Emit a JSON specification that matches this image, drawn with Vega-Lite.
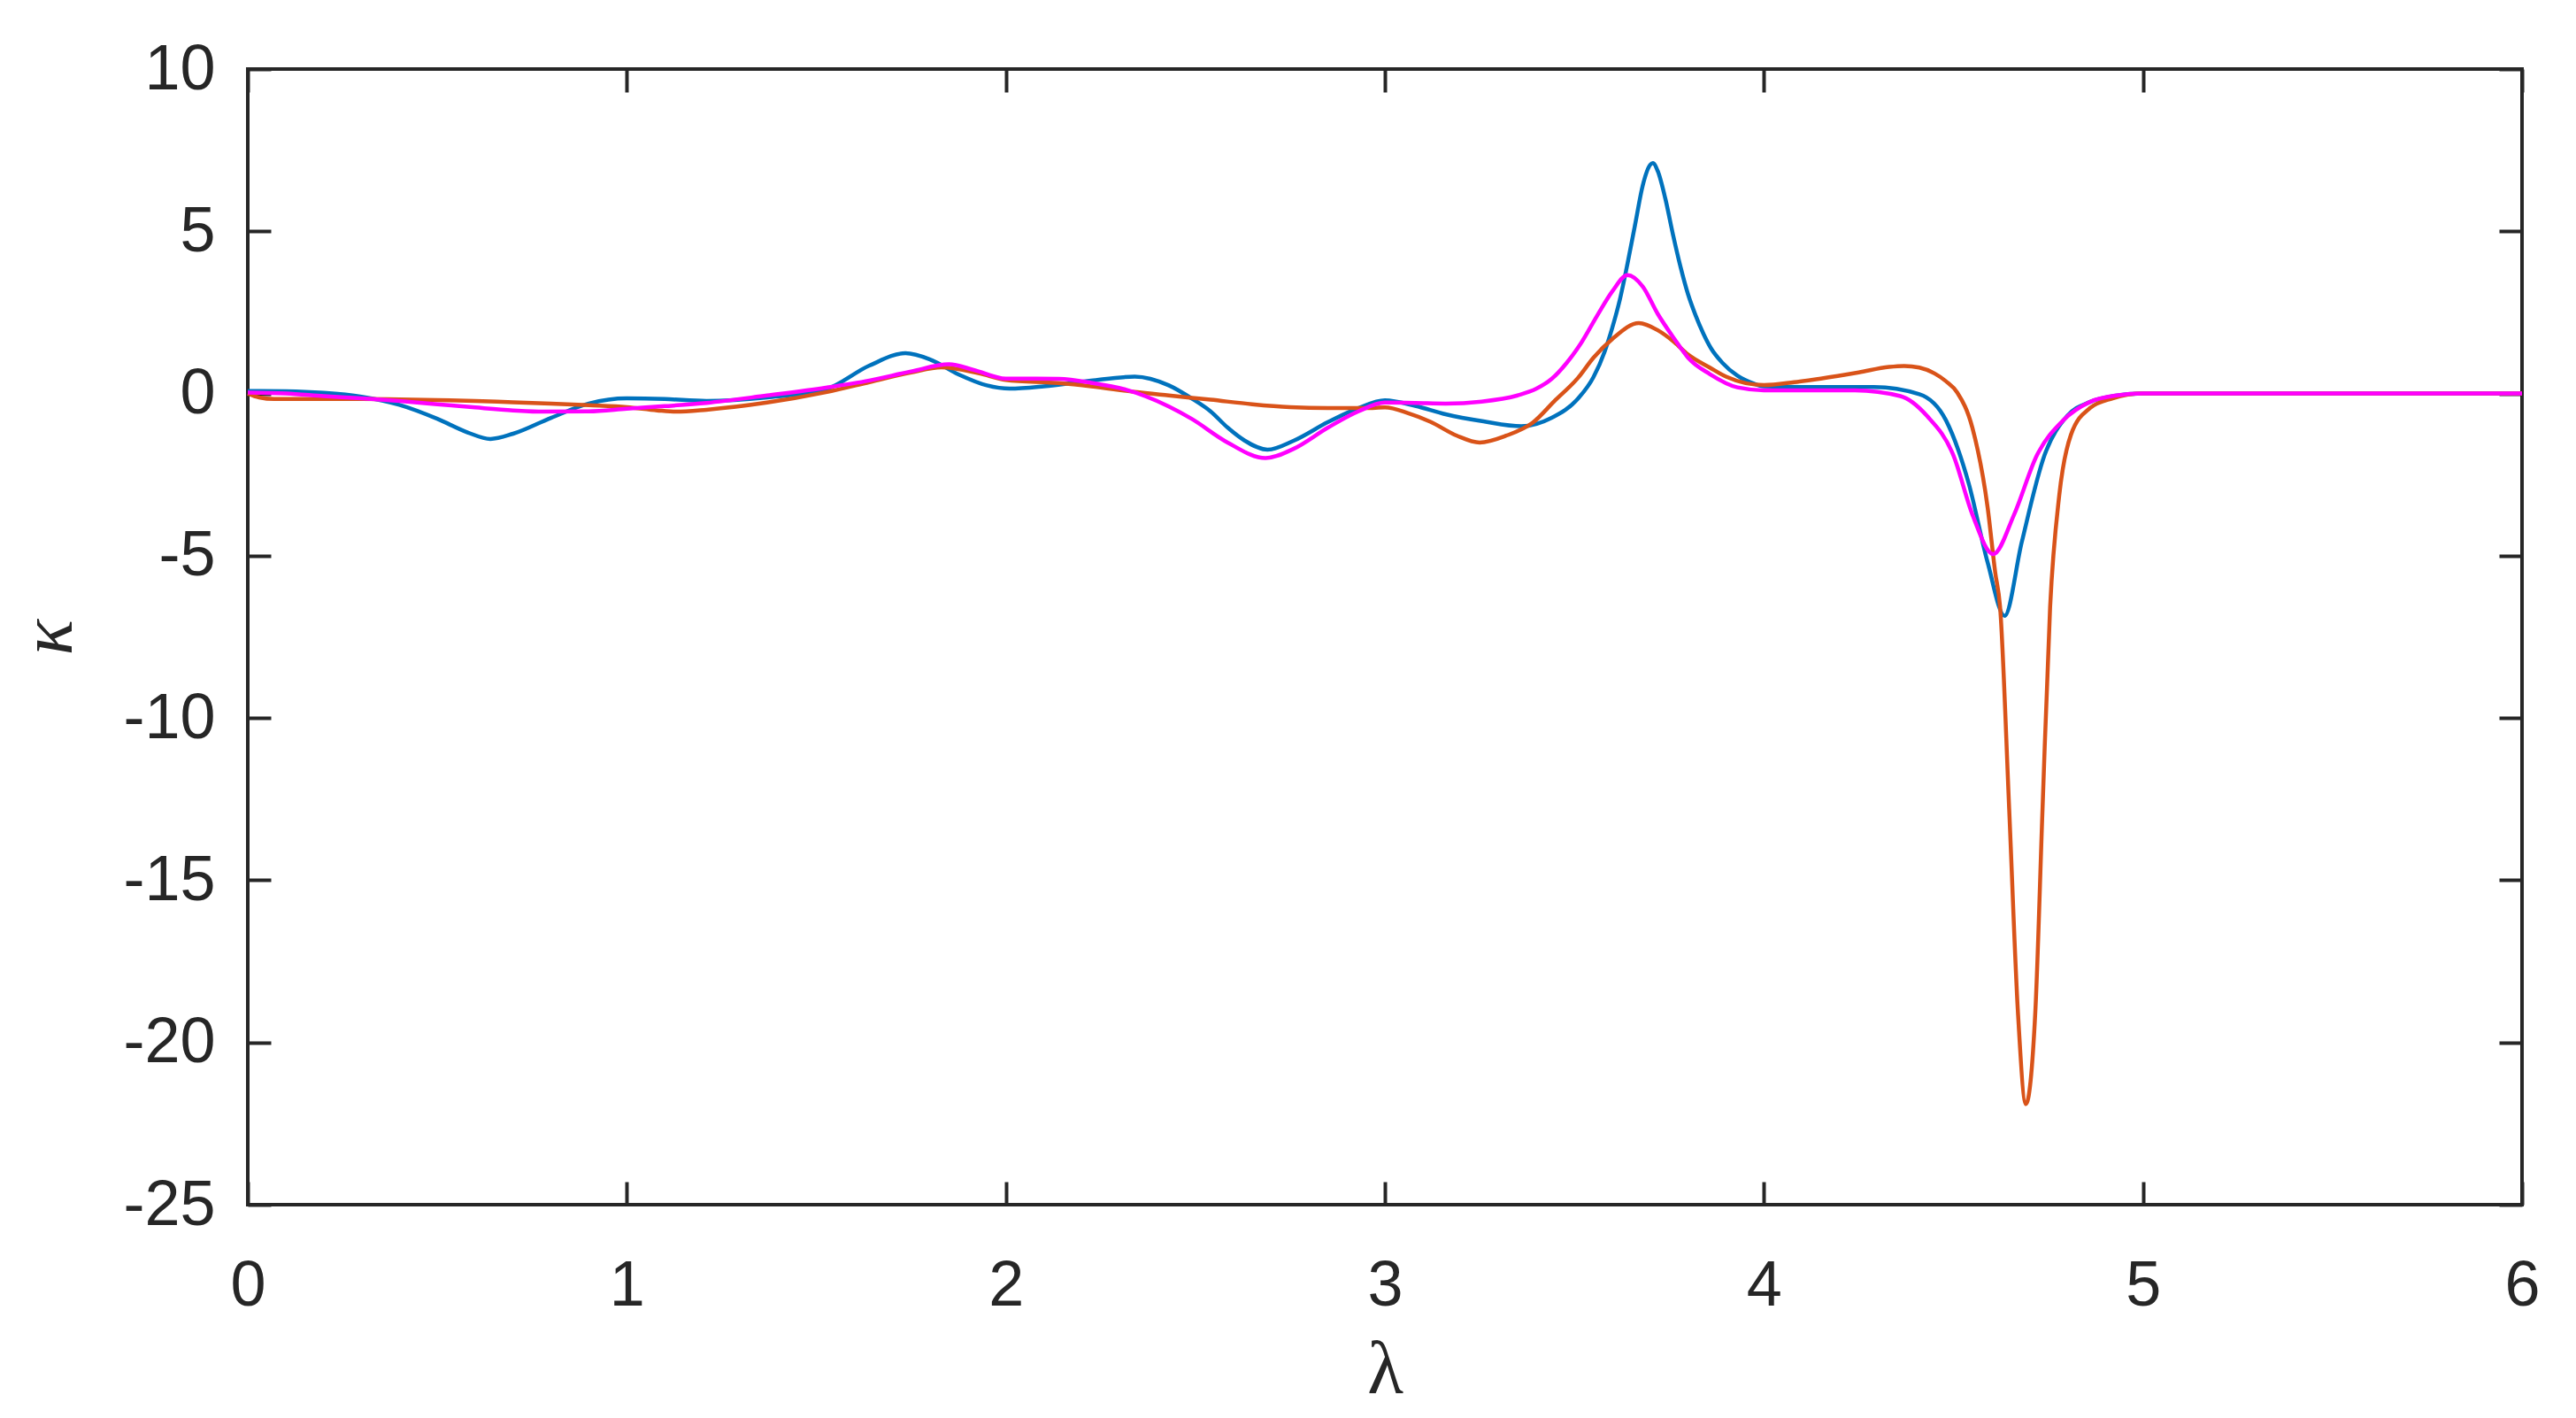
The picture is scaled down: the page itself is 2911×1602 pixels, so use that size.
{
  "$schema": "https://vega.github.io/schema/vega-lite/v6.json",
  "width": 2570,
  "height": 1283,
  "autosize": {"type": "none"},
  "padding": {"left": 280, "top": 78, "right": 61, "bottom": 241},
  "background": "white",
  "config": {
    "view": {"stroke": "#262626", "strokeWidth": 4},
    "axis": {
      "domain": false,
      "grid": false,
      "tickColor": "#262626",
      "tickWidth": 4,
      "tickSize": -26,
      "labelFlush": false,
      "labelFont": "Liberation Sans",
      "labelFontSize": 72,
      "labelColor": "#262626",
      "titleColor": "#262626",
      "titleFont": "Liberation Serif",
      "titleFontWeight": "normal"
    }
  },
  "data": {
    "values": [
      {"s": "A", "x": 0.00, "y": 0.08},
      {"s": "A", "x": 0.10, "y": 0.07},
      {"s": "A", "x": 0.20, "y": 0.02},
      {"s": "A", "x": 0.30, "y": -0.10},
      {"s": "A", "x": 0.40, "y": -0.35},
      {"s": "A", "x": 0.50, "y": -0.78},
      {"s": "A", "x": 0.58, "y": -1.20},
      {"s": "A", "x": 0.64, "y": -1.40},
      {"s": "A", "x": 0.70, "y": -1.24},
      {"s": "A", "x": 0.80, "y": -0.75},
      {"s": "A", "x": 0.90, "y": -0.31},
      {"s": "A", "x": 1.00, "y": -0.15},
      {"s": "A", "x": 1.10, "y": -0.17},
      {"s": "A", "x": 1.21, "y": -0.23},
      {"s": "A", "x": 1.37, "y": -0.12},
      {"s": "A", "x": 1.525, "y": 0.13},
      {"s": "A", "x": 1.64, "y": 0.86},
      {"s": "A", "x": 1.735, "y": 1.24},
      {"s": "A", "x": 1.80, "y": 1.05},
      {"s": "A", "x": 1.875, "y": 0.59},
      {"s": "A", "x": 1.95, "y": 0.25},
      {"s": "A", "x": 2.01, "y": 0.15},
      {"s": "A", "x": 2.10, "y": 0.22},
      {"s": "A", "x": 2.225, "y": 0.40},
      {"s": "A", "x": 2.34, "y": 0.52},
      {"s": "A", "x": 2.43, "y": 0.25},
      {"s": "A", "x": 2.49, "y": -0.15},
      {"s": "A", "x": 2.54, "y": -0.55},
      {"s": "A", "x": 2.585, "y": -1.05},
      {"s": "A", "x": 2.63, "y": -1.45},
      {"s": "A", "x": 2.69, "y": -1.73},
      {"s": "A", "x": 2.76, "y": -1.45},
      {"s": "A", "x": 2.85, "y": -0.88},
      {"s": "A", "x": 2.93, "y": -0.45},
      {"s": "A", "x": 3.00, "y": -0.21},
      {"s": "A", "x": 3.08, "y": -0.38},
      {"s": "A", "x": 3.16, "y": -0.64},
      {"s": "A", "x": 3.26, "y": -0.86},
      {"s": "A", "x": 3.36, "y": -1.01},
      {"s": "A", "x": 3.44, "y": -0.75},
      {"s": "A", "x": 3.51, "y": -0.15},
      {"s": "A", "x": 3.55, "y": 0.5},
      {"s": "A", "x": 3.58, "y": 1.3},
      {"s": "A", "x": 3.60, "y": 2.03},
      {"s": "A", "x": 3.62, "y": 2.9},
      {"s": "A", "x": 3.64, "y": 4.0},
      {"s": "A", "x": 3.66, "y": 5.2},
      {"s": "A", "x": 3.68, "y": 6.4},
      {"s": "A", "x": 3.70, "y": 7.05},
      {"s": "A", "x": 3.707, "y": 7.1},
      {"s": "A", "x": 3.72, "y": 6.85},
      {"s": "A", "x": 3.74, "y": 6.0},
      {"s": "A", "x": 3.76, "y": 4.9},
      {"s": "A", "x": 3.78, "y": 3.9},
      {"s": "A", "x": 3.80, "y": 3.05},
      {"s": "A", "x": 3.82, "y": 2.4},
      {"s": "A", "x": 3.84, "y": 1.85},
      {"s": "A", "x": 3.86, "y": 1.4},
      {"s": "A", "x": 3.89, "y": 0.95},
      {"s": "A", "x": 3.93, "y": 0.55},
      {"s": "A", "x": 3.97, "y": 0.32},
      {"s": "A", "x": 4.00, "y": 0.22},
      {"s": "A", "x": 4.10, "y": 0.20},
      {"s": "A", "x": 4.29, "y": 0.20},
      {"s": "A", "x": 4.41, "y": -0.02},
      {"s": "A", "x": 4.48, "y": -0.82},
      {"s": "A", "x": 4.54, "y": -2.76},
      {"s": "A", "x": 4.59, "y": -5.2},
      {"s": "A", "x": 4.635, "y": -6.85},
      {"s": "A", "x": 4.68, "y": -4.59},
      {"s": "A", "x": 4.74, "y": -1.91},
      {"s": "A", "x": 4.80, "y": -0.69},
      {"s": "A", "x": 4.86, "y": -0.26},
      {"s": "A", "x": 4.92, "y": -0.08},
      {"s": "A", "x": 5.00, "y": 0.0},
      {"s": "A", "x": 6.00, "y": 0.0},

      {"s": "B", "x": 0.00, "y": 0.0},
      {"s": "B", "x": 0.03, "y": -0.12},
      {"s": "B", "x": 0.07, "y": -0.17},
      {"s": "B", "x": 0.20, "y": -0.17},
      {"s": "B", "x": 0.30, "y": -0.17},
      {"s": "B", "x": 0.40, "y": -0.18},
      {"s": "B", "x": 0.50, "y": -0.20},
      {"s": "B", "x": 0.60, "y": -0.23},
      {"s": "B", "x": 0.70, "y": -0.27},
      {"s": "B", "x": 0.80, "y": -0.31},
      {"s": "B", "x": 0.90, "y": -0.36},
      {"s": "B", "x": 1.00, "y": -0.42},
      {"s": "B", "x": 1.08, "y": -0.52},
      {"s": "B", "x": 1.13, "y": -0.56},
      {"s": "B", "x": 1.21, "y": -0.50},
      {"s": "B", "x": 1.37, "y": -0.28},
      {"s": "B", "x": 1.525, "y": 0.04},
      {"s": "B", "x": 1.64, "y": 0.35},
      {"s": "B", "x": 1.75, "y": 0.65},
      {"s": "B", "x": 1.83, "y": 0.81},
      {"s": "B", "x": 1.93, "y": 0.62},
      {"s": "B", "x": 2.00, "y": 0.42},
      {"s": "B", "x": 2.14, "y": 0.32},
      {"s": "B", "x": 2.225, "y": 0.22},
      {"s": "B", "x": 2.34, "y": 0.05},
      {"s": "B", "x": 2.43, "y": -0.06},
      {"s": "B", "x": 2.54, "y": -0.19},
      {"s": "B", "x": 2.65, "y": -0.33},
      {"s": "B", "x": 2.75, "y": -0.42},
      {"s": "B", "x": 2.85, "y": -0.45},
      {"s": "B", "x": 2.95, "y": -0.45},
      {"s": "B", "x": 3.00, "y": -0.43},
      {"s": "B", "x": 3.06, "y": -0.6},
      {"s": "B", "x": 3.12, "y": -0.87},
      {"s": "B", "x": 3.19, "y": -1.3},
      {"s": "B", "x": 3.25, "y": -1.51},
      {"s": "B", "x": 3.32, "y": -1.3},
      {"s": "B", "x": 3.39, "y": -0.9},
      {"s": "B", "x": 3.45, "y": -0.2},
      {"s": "B", "x": 3.51, "y": 0.49},
      {"s": "B", "x": 3.55, "y": 1.1},
      {"s": "B", "x": 3.60, "y": 1.68},
      {"s": "B", "x": 3.67, "y": 2.17},
      {"s": "B", "x": 3.72, "y": 1.95},
      {"s": "B", "x": 3.764, "y": 1.58},
      {"s": "B", "x": 3.80, "y": 1.2},
      {"s": "B", "x": 3.857, "y": 0.8},
      {"s": "B", "x": 3.90, "y": 0.52},
      {"s": "B", "x": 4.00, "y": 0.26},
      {"s": "B", "x": 4.08, "y": 0.35},
      {"s": "B", "x": 4.15, "y": 0.46},
      {"s": "B", "x": 4.25, "y": 0.65},
      {"s": "B", "x": 4.33, "y": 0.82},
      {"s": "B", "x": 4.37, "y": 0.85},
      {"s": "B", "x": 4.41, "y": 0.80},
      {"s": "B", "x": 4.45, "y": 0.62},
      {"s": "B", "x": 4.48, "y": 0.38},
      {"s": "B", "x": 4.51, "y": 0.03},
      {"s": "B", "x": 4.55, "y": -1.06},
      {"s": "B", "x": 4.59, "y": -3.5},
      {"s": "B", "x": 4.61, "y": -5.5},
      {"s": "B", "x": 4.623, "y": -6.58},
      {"s": "B", "x": 4.647, "y": -12.8},
      {"s": "B", "x": 4.67, "y": -19.05},
      {"s": "B", "x": 4.691, "y": -21.9},
      {"s": "B", "x": 4.716, "y": -19.05},
      {"s": "B", "x": 4.735, "y": -12.8},
      {"s": "B", "x": 4.755, "y": -6.58},
      {"s": "B", "x": 4.779, "y": -3.15},
      {"s": "B", "x": 4.81, "y": -1.27},
      {"s": "B", "x": 4.86, "y": -0.45},
      {"s": "B", "x": 4.92, "y": -0.15},
      {"s": "B", "x": 5.00, "y": 0.0},
      {"s": "B", "x": 6.00, "y": 0.0},

      {"s": "C", "x": 0.00, "y": 0.03},
      {"s": "C", "x": 0.10, "y": 0.0},
      {"s": "C", "x": 0.20, "y": -0.08},
      {"s": "C", "x": 0.30, "y": -0.15},
      {"s": "C", "x": 0.40, "y": -0.23},
      {"s": "C", "x": 0.50, "y": -0.33},
      {"s": "C", "x": 0.60, "y": -0.43},
      {"s": "C", "x": 0.70, "y": -0.52},
      {"s": "C", "x": 0.78, "y": -0.56},
      {"s": "C", "x": 0.90, "y": -0.55},
      {"s": "C", "x": 1.00, "y": -0.47},
      {"s": "C", "x": 1.10, "y": -0.39},
      {"s": "C", "x": 1.21, "y": -0.29},
      {"s": "C", "x": 1.37, "y": -0.06},
      {"s": "C", "x": 1.525, "y": 0.18},
      {"s": "C", "x": 1.64, "y": 0.40},
      {"s": "C", "x": 1.75, "y": 0.68},
      {"s": "C", "x": 1.85, "y": 0.90},
      {"s": "C", "x": 1.915, "y": 0.73},
      {"s": "C", "x": 2.00, "y": 0.46},
      {"s": "C", "x": 2.08, "y": 0.46},
      {"s": "C", "x": 2.14, "y": 0.45},
      {"s": "C", "x": 2.225, "y": 0.33},
      {"s": "C", "x": 2.316, "y": 0.12},
      {"s": "C", "x": 2.43, "y": -0.40},
      {"s": "C", "x": 2.49, "y": -0.78},
      {"s": "C", "x": 2.585, "y": -1.51},
      {"s": "C", "x": 2.685, "y": -1.99},
      {"s": "C", "x": 2.76, "y": -1.7},
      {"s": "C", "x": 2.85, "y": -1.05},
      {"s": "C", "x": 2.93, "y": -0.55},
      {"s": "C", "x": 3.00, "y": -0.28},
      {"s": "C", "x": 3.08, "y": -0.29},
      {"s": "C", "x": 3.16, "y": -0.31},
      {"s": "C", "x": 3.255, "y": -0.25},
      {"s": "C", "x": 3.35, "y": -0.06},
      {"s": "C", "x": 3.40, "y": 0.15},
      {"s": "C", "x": 3.44, "y": 0.45},
      {"s": "C", "x": 3.48, "y": 0.95},
      {"s": "C", "x": 3.52, "y": 1.6},
      {"s": "C", "x": 3.56, "y": 2.4},
      {"s": "C", "x": 3.60, "y": 3.15},
      {"s": "C", "x": 3.64, "y": 3.65},
      {"s": "C", "x": 3.68, "y": 3.3},
      {"s": "C", "x": 3.72, "y": 2.45},
      {"s": "C", "x": 3.764, "y": 1.68},
      {"s": "C", "x": 3.80, "y": 1.1},
      {"s": "C", "x": 3.857, "y": 0.6},
      {"s": "C", "x": 3.93, "y": 0.19},
      {"s": "C", "x": 4.00, "y": 0.10},
      {"s": "C", "x": 4.24, "y": 0.10},
      {"s": "C", "x": 4.36, "y": -0.08},
      {"s": "C", "x": 4.43, "y": -0.69},
      {"s": "C", "x": 4.50, "y": -1.91},
      {"s": "C", "x": 4.55, "y": -3.73},
      {"s": "C", "x": 4.605, "y": -4.95},
      {"s": "C", "x": 4.66, "y": -3.73},
      {"s": "C", "x": 4.72, "y": -1.91},
      {"s": "C", "x": 4.79, "y": -0.82},
      {"s": "C", "x": 4.86, "y": -0.26},
      {"s": "C", "x": 4.93, "y": -0.06},
      {"s": "C", "x": 5.00, "y": 0.0},
      {"s": "C", "x": 6.00, "y": 0.0}
    ]
  },
  "layer": [
    {
      "mark": {"type": "line", "strokeWidth": 4.5, "interpolate": "monotone"},
      "encoding": {
        "x": {
          "field": "x", "type": "quantitative",
          "scale": {"domain": [0, 6], "nice": false, "zero": false},
          "axis": {
            "orient": "bottom", "values": [0, 1, 2, 3, 4, 5, 6],
            "labelPadding": 82, "labelExpr": "datum.value + ''",
            "title": "λ", "titleFontSize": 84, "titlePadding": 19
          }
        },
        "y": {
          "field": "y", "type": "quantitative",
          "scale": {"domain": [-25, 10], "nice": false, "zero": false},
          "axis": {
            "orient": "left", "values": [-25, -20, -15, -10, -5, 0, 5, 10],
            "labelPadding": 63, "labelExpr": "datum.value + ''",
            "title": "κ", "titleFontSize": 84, "titleFontStyle": "italic", "titlePadding": 40
          }
        },
        "color": {
          "field": "s", "type": "nominal", "legend": null,
          "scale": {"domain": ["A", "B", "C"], "range": ["#0072BD", "#D95319", "#FF00FF"]}
        }
      }
    },
    {
      "mark": {"type": "line", "strokeOpacity": 0},
      "encoding": {
        "x": {
          "field": "x", "type": "quantitative",
          "axis": {"orient": "top", "values": [0, 1, 2, 3, 4, 5, 6], "labels": false, "title": null}
        },
        "y": {
          "field": "y", "type": "quantitative",
          "axis": {"orient": "right", "values": [-25, -20, -15, -10, -5, 0, 5, 10], "labels": false, "title": null}
        },
        "detail": {"field": "s", "type": "nominal"}
      }
    }
  ],
  "resolve": {"axis": {"x": "independent", "y": "independent"}}
}
